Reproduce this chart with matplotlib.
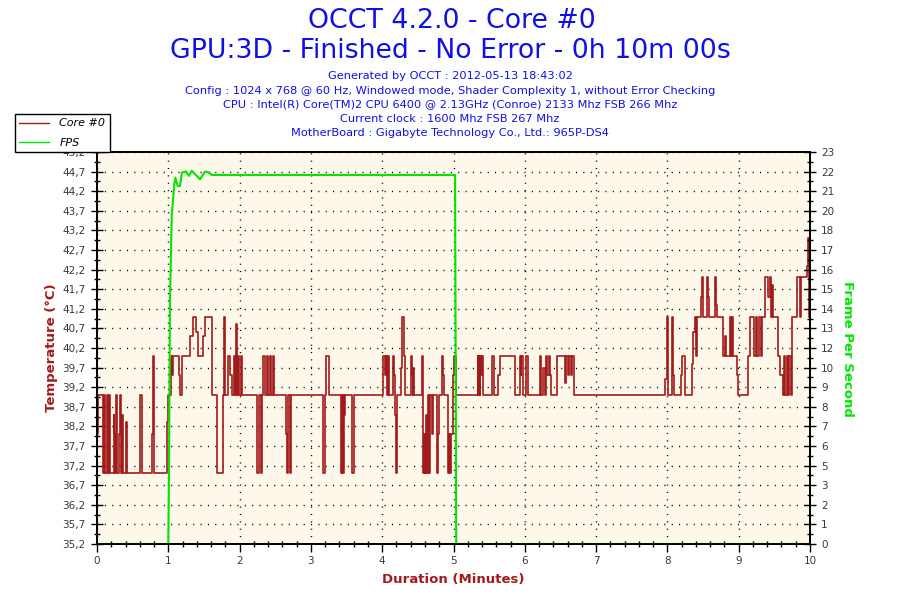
import numpy as np
import matplotlib
matplotlib.use('Agg')
import matplotlib.pyplot as plt
from matplotlib.ticker import FixedLocator, MultipleLocator
from matplotlib.lines import Line2D

# ---------------- data ----------------
title_lines = ["OCCT 4.2.0 - Core #0",
               "GPU:3D - Finished - No Error - 0h 10m 00s"]
info_lines = ["Generated by OCCT : 2012-05-13 18:43:02",
              "Config : 1024 x 768 @ 60 Hz, Windowed mode, Shader Complexity 1, without Error Checking",
              "CPU : Intel(R) Core(TM)2 CPU 6400 @ 2.13GHz (Conroe) 2133 Mhz FSB 266 Mhz",
              "Current clock : 1600 Mhz FSB 267 Mhz",
              "MotherBoard : Gigabyte Technology Co., Ltd.: 965P-DS4"]
series_names = ["Core #0", "FPS"]

# Core #0 temperature (step series: time in seconds, value in degC)
temp_time_s = [0, 1, 5, 6, 7, 8, 9, 10, 11, 14, 14.7, 15.2, 16, 16.8, 18.5, 19, 20, 21, 21.8, 24, 25,
               36.2, 36.6, 37.6, 46.3, 46.8, 47.8, 59, 60, 62, 63, 64, 69, 70, 71.5, 78.3, 80.5, 83.3,
               85, 89.2, 90.5, 96.8, 101, 106, 107.2, 108, 110, 112, 114, 115, 116, 117, 118, 119,
               119.8, 121, 122, 135, 136, 138, 139, 140, 141, 143, 144, 145.5, 146.5, 148, 149,
               159, 160, 161, 162, 163.5, 190, 190.5, 191.5, 193, 195, 205, 206, 207, 207.7, 208,
               208.8, 215, 216.5, 241, 242, 243, 243.7, 245, 246, 249, 250, 251, 251.5, 252.8, 256,
               256.8, 258.5, 259.2, 264, 265, 265.6, 266.3, 267, 273.5, 274.3, 275, 275.8, 276.6,
               277.4, 278.4, 279.2, 280.2, 282, 282.7, 286.2, 287, 288.2, 290.5, 291.3, 292, 295.2,
               296.2, 297, 298, 299.4, 300.4, 302, 320.5, 321, 321.5, 322, 322.6, 323.2, 323.8,
               324.6, 332.5, 334, 337.5, 339.5, 351.5, 356, 356.6, 357.2, 358.2, 361, 362.6, 373,
               374, 375.5, 376.6, 378, 379, 380, 381, 382.2, 387, 393.8, 395, 396.4, 397.4, 399,
               400, 401.5, 478, 479.4, 480.6, 483.6, 484.4, 485.2, 491.2, 492, 494.8, 500.4, 501.8,
               503.2, 504, 504.8, 508.3, 509.1, 510.2, 513, 514, 514.6, 520, 520.9, 521.5, 527,
               528.5, 529.3, 532.7, 533.4, 534.1, 535, 538.3, 539.1, 548.1, 549.5, 552.9, 554.6,
               555.7, 557.1, 558.5, 559.6, 562.1, 565, 566, 567.3, 568, 569.1, 573.3, 574.7, 577,
               578.1, 578.9, 580.4, 581.7, 582.6, 583.8, 584.6, 588.8, 592, 592.6, 597.2, 598,
               598.8, 599.5, 600]
temp_value = [38, 39, 37, 39, 37, 39, 37, 39, 37, 38.5, 38, 37, 39, 37, 38, 39, 37, 38.5, 37, 38.3, 37,
              38, 39, 37, 38, 40, 37, 38.3, 39, 40, 39.5, 40, 39.5, 39, 40, 40.5, 41, 40.6,
              40, 40.5, 41, 39, 37, 39, 41, 39, 40, 39.5, 39, 40, 39, 40.8, 39, 40,
              39, 40, 39, 37, 39, 37, 39, 40, 39, 40, 39, 40, 39, 40, 39,
              38, 37, 39, 37, 39, 38, 37, 39, 40, 39, 37, 39, 37, 39, 38.5,
              39, 37, 39, 40, 39.5, 40, 39, 40, 39, 40, 39.5, 38.5, 37, 39, 39.7,
              41, 40, 39, 40, 39.5, 39, 39.7, 39, 40, 37, 38, 37, 38.5,
              37, 39, 37, 39, 38, 39, 37, 38, 39, 40, 39.5, 39, 37,
              38, 37, 38, 39.5, 40, 39, 40, 39, 40, 39, 40, 39.5, 40,
              39, 40, 39, 39.5, 40, 39, 40, 39.5, 40, 39, 40, 39, 40,
              39, 39.7, 39, 40, 39.5, 40, 39.5, 39, 40, 39.3, 40, 39.5, 40, 39.5,
              40, 39, 39.4, 41, 39, 41, 39.5, 39, 39.5, 40, 39, 39.8, 40.6,
              41, 40, 41, 41.5, 42, 41, 42, 41.5, 41, 42, 41.3, 41, 40,
              40.5, 40, 41, 40, 41, 40, 39.5, 39, 40, 41, 40, 41,
              40, 41, 40, 41, 42, 41.5, 42, 41, 41.8, 41, 40, 39.5, 39,
              40, 39, 40, 39, 40, 39, 41, 42, 41, 42, 42.3, 43,
              42, 41, 41]

# FPS (polyline: time in seconds, frames per second)
fps_time_s = [0, 60, 60.6, 61.4, 62.9, 64, 65, 66, 67, 68, 69.8, 71.5, 74.9, 77.4, 79.7, 82.5,
              86.7, 90.9, 94.5, 96.5, 301.3, 301.8, 302.3, 600]
fps_value = [0, 0, 4.5, 14.3, 19.3, 20.2, 21.1, 21.5, 21.2, 21.0, 21.0, 21.8, 21.85, 21.6, 21.9, 21.7,
             21.4, 21.85, 21.8, 21.65, 21.65, 11, 0, 0]

temp_ylim = (35.2, 45.2)
fps_ylim = (0, 23)
x_lim = (0, 10)

# ---------------- style ----------------
RED = '#A31A1A'
GREEN = '#00E600'
BLUE = '#1010E6'
BG = '#FDF8E9'
TICKC = '#3A3A3A'

fig = plt.figure(figsize=(9, 6), dpi=100)
fig.patch.set_facecolor('white')

ax = fig.add_axes([97/900, 56/600, 713/900, 392/600])
ax.set_facecolor(BG)
ax.set_xlim(*x_lim)
ax.set_ylim(*temp_ylim)

ax.step(np.array(temp_time_s) / 60.0, temp_value, where='post', color=RED, lw=1.2, zorder=2)

# left axis ticks
tmaj = np.linspace(temp_ylim[0], temp_ylim[1], 21)
ax.yaxis.set_major_locator(FixedLocator(tmaj))
ax.set_yticklabels([f"{v:.1f}".replace('.', ',') for v in tmaj])
ax.yaxis.set_minor_locator(FixedLocator((tmaj[:-1] + tmaj[1:]) / 2))
ax.xaxis.set_major_locator(MultipleLocator(1))
ax.xaxis.set_minor_locator(MultipleLocator(0.2))
ax.xaxis.set_major_formatter(plt.FuncFormatter(lambda v, p: f"{int(round(v))}"))

ax.grid(True, which='major', color='black', linestyle=(0, (0.8, 4.5)), lw=1.0)
ax.set_axisbelow(True)

ax.tick_params(axis='y', which='major', direction='inout', length=8, width=1.0,
               labelsize=7.5, labelcolor=TICKC, pad=4)
ax.tick_params(axis='y', which='minor', direction='inout', length=5, width=1.0)
ax.tick_params(axis='x', which='major', direction='out', length=6, width=1.0,
               labelsize=7.5, labelcolor=TICKC, pad=3)
ax.tick_params(axis='x', which='minor', direction='inout', length=5, width=1.0)

for s in ax.spines.values():
    s.set_linewidth(1.3)
    s.set_color('black')

ax2 = ax.twinx()
ax2.set_ylim(*fps_ylim)
ax2.plot(np.array(fps_time_s) / 60.0, fps_value, color=GREEN, lw=1.5, zorder=2)
fmaj = np.linspace(fps_ylim[0], fps_ylim[1], 21)
ax2.yaxis.set_major_locator(FixedLocator(fmaj))
ax2.set_yticklabels([str(int(np.floor(v + 0.5))) for v in fmaj])
ax2.yaxis.set_minor_locator(FixedLocator((fmaj[:-1] + fmaj[1:]) / 2))
ax2.tick_params(axis='y', which='major', direction='inout', length=8, width=1.0,
                labelsize=7.5, labelcolor=TICKC, pad=4)
ax2.tick_params(axis='y', which='minor', direction='inout', length=5, width=1.0)
for s in ax2.spines.values():
    s.set_linewidth(1.3)
    s.set_color('black')

# labels
fig.text(52/900, 1 - 348/600, "Temperature (°C)", rotation=90, color=RED,
         fontsize=9.5, fontweight='bold', ha='center', va='center')
fig.text(848/900, 1 - 349/600, "Frame Per Second", rotation=270, color=GREEN,
         fontsize=9.5, fontweight='bold', ha='center', va='center')
fig.text(453/900, 1 - 580/600, "Duration (Minutes)", color=RED,
         fontsize=9.5, fontweight='bold', ha='center', va='center')

# titles
fig.text(452/900, 1 - 21/600, title_lines[0], color=BLUE, fontsize=19.3,
         ha='center', va='center')
fig.text(450/900, 1 - 51/600, title_lines[1], color=BLUE, fontsize=19.3,
         ha='center', va='center')
info_y = [76, 90.5, 104.5, 118.5, 132.5]
for line, yy in zip(info_lines, info_y):
    fig.text(450/900, 1 - yy/600, line, color=BLUE, fontsize=8.2,
             ha='center', va='center')

# legend
handles = [Line2D([], [], color=RED, lw=1.0), Line2D([], [], color=GREEN, lw=1.0)]
leg = fig.legend(handles, series_names, loc='upper left',
                 bbox_to_anchor=(15/900, 1 - 114/600), prop={'style': 'italic', 'size': 8},
                 frameon=True, fancybox=False, edgecolor='black', framealpha=1,
                 borderaxespad=0, handlelength=2.7, borderpad=0.4, labelspacing=0.85,
                 handletextpad=0.9)
leg.get_frame().set_linewidth(1.0)
leg.set_zorder(10)

fig.savefig('out.png', dpi=100, facecolor='white')
